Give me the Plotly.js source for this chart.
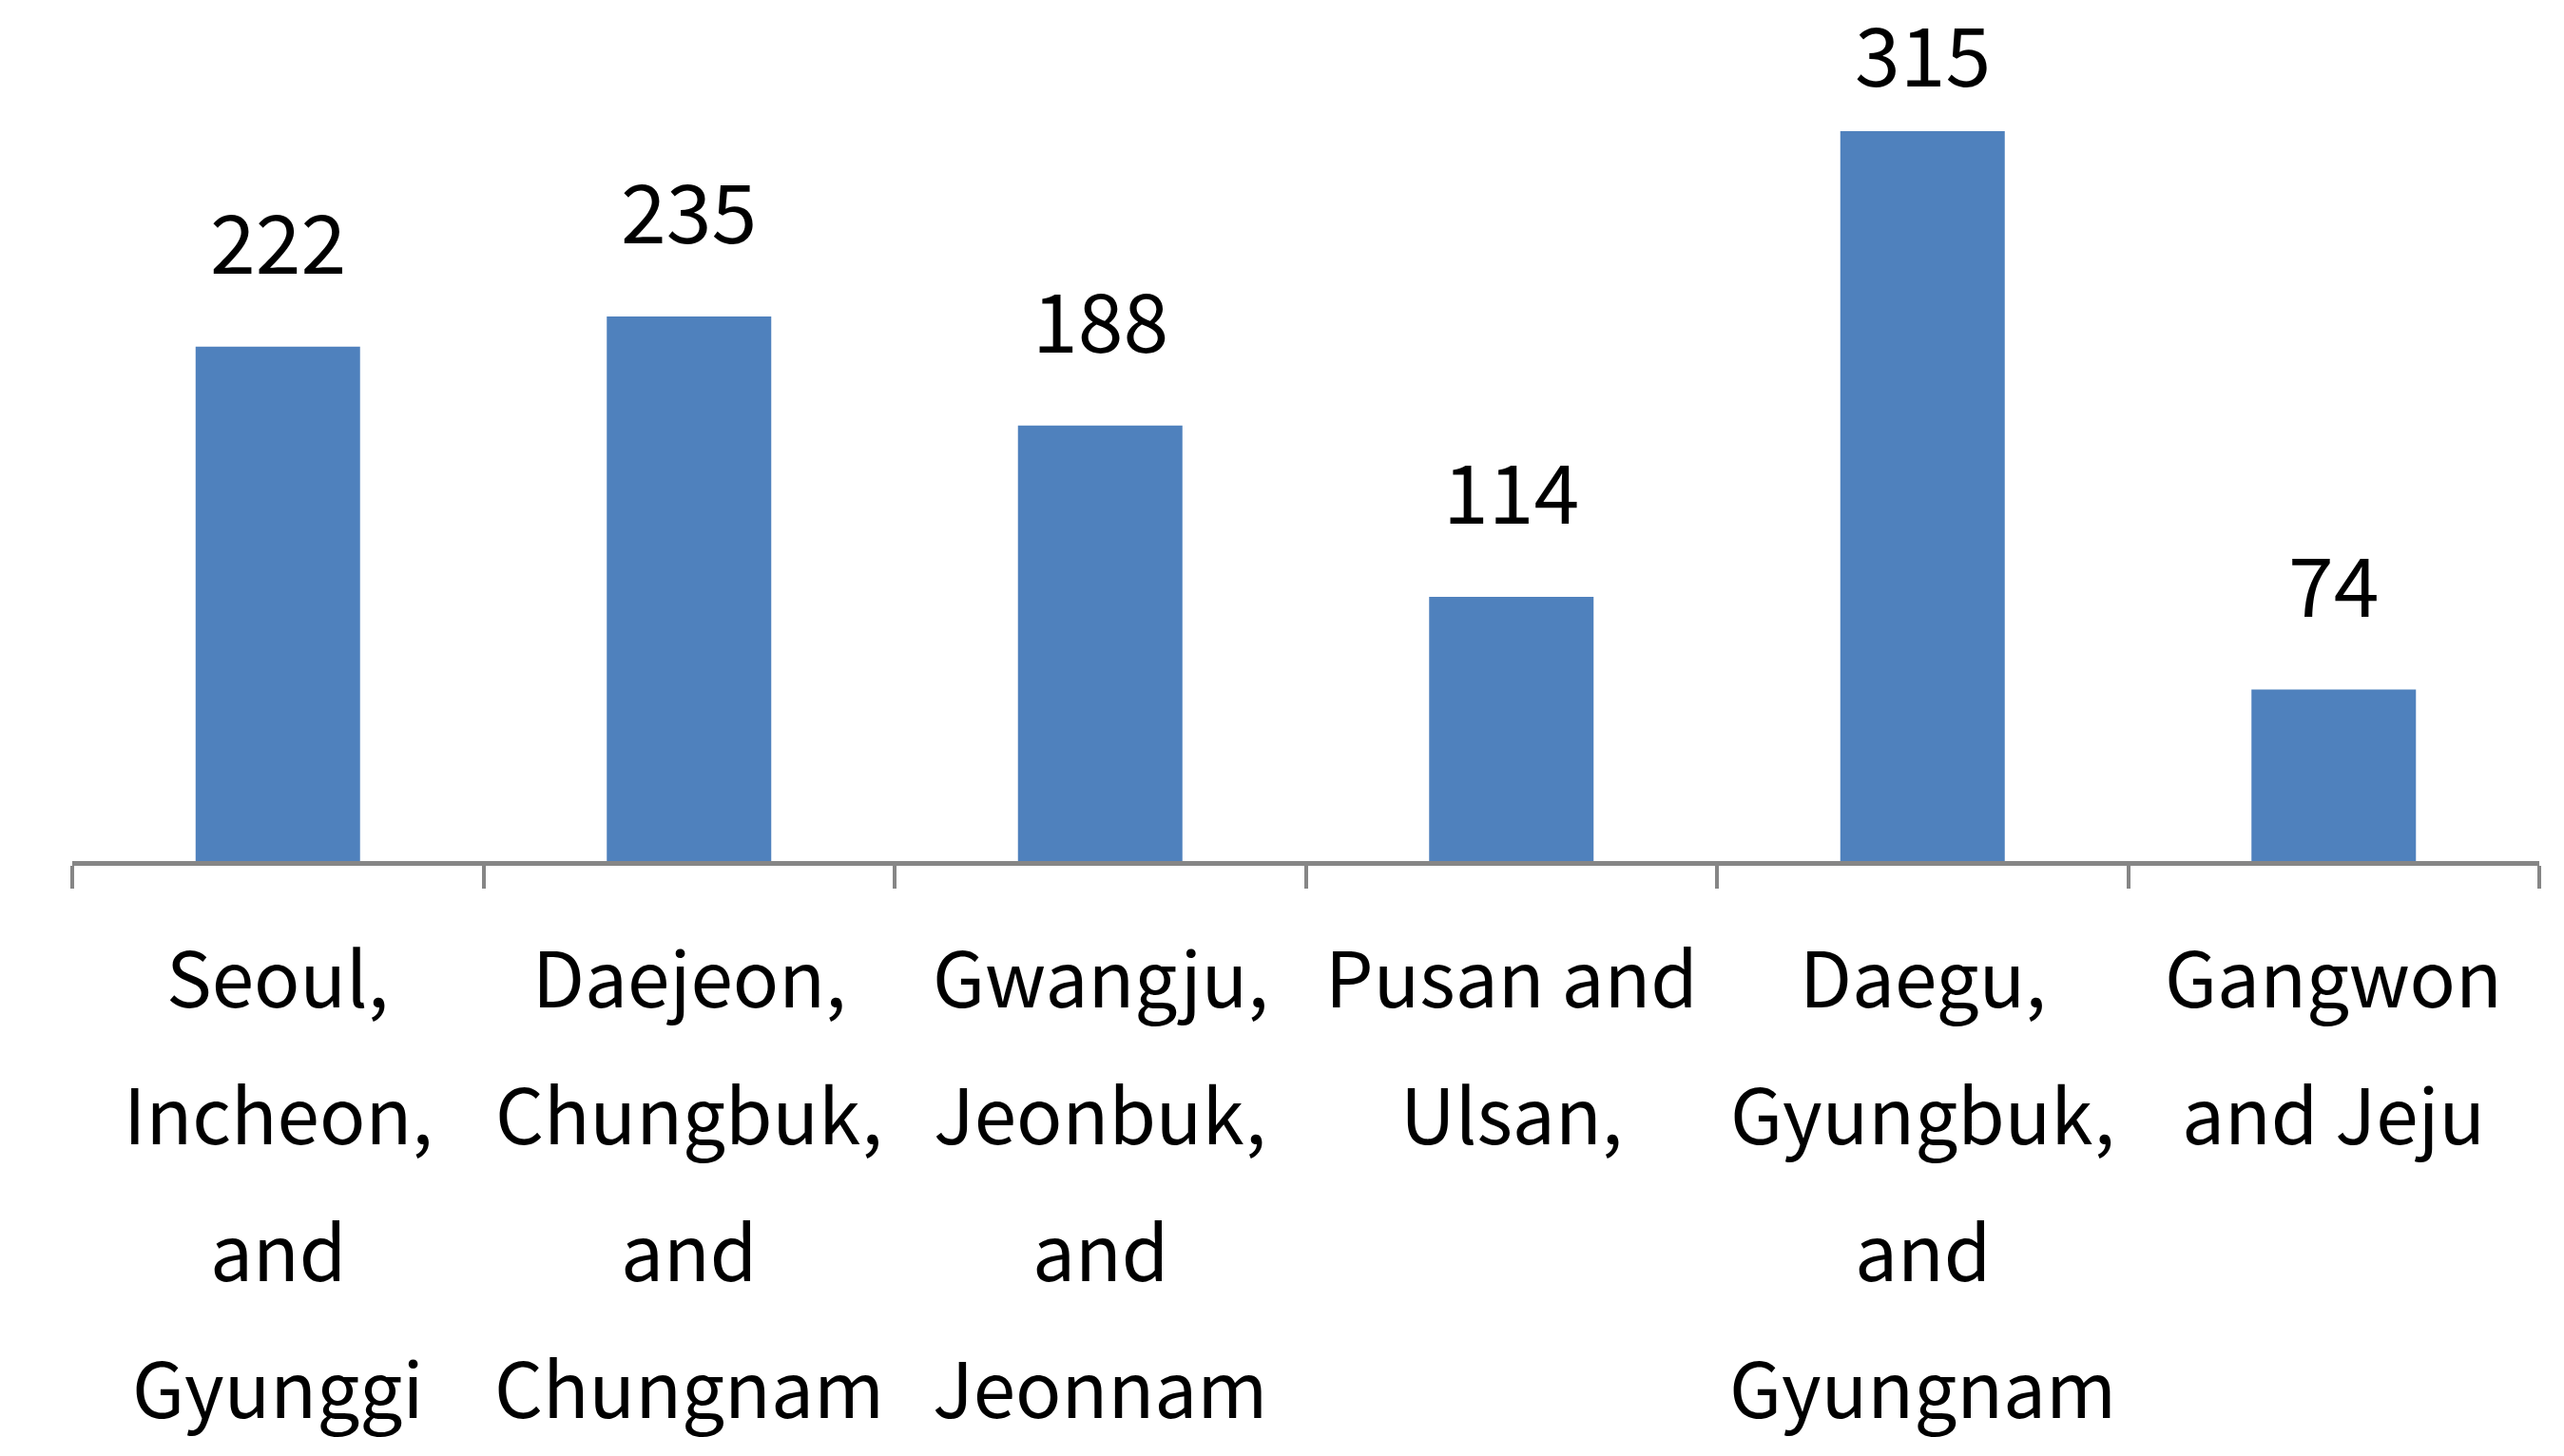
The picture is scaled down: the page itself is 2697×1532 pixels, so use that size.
<!DOCTYPE html>
<html>
<head>
<meta charset="utf-8">
<script src="https://cdn.plot.ly/plotly-3.0.1.min.js"></script>
<style>
  html, body { margin: 0; padding: 0; background: #fff; }
  #chart { width: 2697px; height: 1532px; }
</style>
</head>
<body>
<div id="chart"></div>
<script>
// regions (category keys) and counts
var regions = ['Seoul', 'Daejeon', 'Gwangju', 'Pusan', 'Daegu', 'Gangwon'];
var counts = [222, 235, 188, 114, 315, 74];
// tick label lines, one list per category
var tickLines = [
  ['Seoul,', 'Incheon,', 'and', 'Gyunggi'],
  ['Daejeon,', 'Chungbuk,', 'and', 'Chungnam'],
  ['Gwangju,', 'Jeonbuk,', 'and', 'Jeonnam'],
  ['Pusan and', 'Ulsan,'],
  ['Daegu,', 'Gyungbuk,', 'and', 'Gyungnam'],
  ['Gangwon', 'and Jeju']
];

var FONT = '"Noto Sans CJK KR", "Noto Sans", sans-serif';
var yMax = 371.6;
var plotH = 906;

var trace = {
  type: 'bar',
  x: regions,
  y: counts,
  marker: { color: '#4F81BD' },
  hoverinfo: 'none'
};

var annots = [];
// value labels above the bars (pushed down when they would leave the chart)
for (var i = 0; i < regions.length; i++) {
  var room = (yMax - counts[i]) * plotH / yMax; // px between bar top and plot top
  var shift = Math.min(50, room - 118);
  annots.push({
    x: regions[i], y: counts[i], xref: 'x', yref: 'y',
    text: String(counts[i]), showarrow: false,
    yanchor: 'bottom', yshift: shift,
    font: { family: FONT, size: 86, color: '#000' }
  });
}
// category labels, one annotation per line so the line pitch matches
for (var i = 0; i < tickLines.length; i++) {
  for (var k = 0; k < tickLines[i].length; k++) {
    annots.push({
      x: regions[i], y: 0, xref: 'x', yref: 'paper',
      text: tickLines[i][k], showarrow: false,
      yanchor: 'middle', yshift: -(119 + 144 * k),
      font: { family: FONT, size: 80, color: '#000' }
    });
  }
}

var layout = {
  width: 2697, height: 1532,
  margin: { l: 76, r: 26, t: 0, b: 626 },
  paper_bgcolor: '#fff', plot_bgcolor: '#fff',
  showlegend: false,
  bargap: 0.6,
  xaxis: {
    type: 'category',
    showticklabels: false,
    showline: true, linecolor: '#868686', linewidth: 5,
    ticks: 'outside', tickson: 'boundaries',
    ticklen: 24, tickwidth: 4, tickcolor: '#868686',
    showgrid: false, zeroline: false, fixedrange: true
  },
  yaxis: {
    range: [0, yMax],
    visible: false, showgrid: false, zeroline: false
  },
  annotations: annots
};

Plotly.newPlot('chart', [trace], layout, { staticPlot: true });
</script>
</body>
</html>
